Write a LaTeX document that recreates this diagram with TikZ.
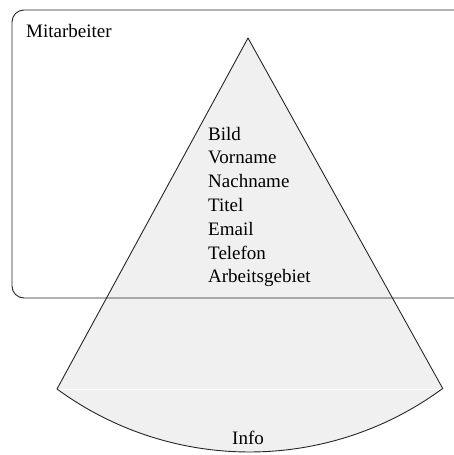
\documentclass[tikz,border=0pt]{standalone}
\usepackage{fontspec}
\setmainfont{Liberation Serif}
\begin{document}
\begin{tikzpicture}[x=1pt,y=-1pt,
  outline/.style={draw=black!85,line width=0.9pt},
  cone/.style={fill=black!6},
  label/.style={font=\fontsize{19}{23}\selectfont,inner sep=0pt,anchor=base west}]
\useasboundingbox (0,0) rectangle (453,455);
% corner points of the cone
\coordinate (apex) at (248,38);
\coordinate (L) at (57,389);
\coordinate (R) at (443,389);
% cone body and its rounded foot (y axis points down, so angles run clockwise)
\fill[cone] (apex) -- (L) arc[start angle=126.24,end angle=53.76,radius=325.6] -- cycle;
\draw[white,line width=0.4pt] (L) -- (R);
\draw[outline,line join=round] (R) -- (apex) -- (L) arc[start angle=126.24,end angle=53.76,radius=325.6];
% the Mitarbeiter frame, running out past the right edge
\draw[outline] (470,10) -- (24,10) arc[start angle=270,end angle=180,radius=12]
  -- (12,286) arc[start angle=180,end angle=90,radius=12] -- (470,298);
\node[label] (title) at (26,37) {Mitarbeiter};
\node[label] (f1) at (208,140) {Bild};
\node[label] (f2) at (208,163.8) {Vorname};
\node[label] (f3) at (208,187.6) {Nachname};
\node[label] (f4) at (208,211.4) {Titel};
\node[label] (f5) at (208,235.2) {Email};
\node[label] (f6) at (208,259) {Telefon};
\node[label] (f7) at (208,282.8) {Arbeitsgebiet};
\node[label,anchor=base] (info) at (248,444) {Info};
\end{tikzpicture}
\end{document}
